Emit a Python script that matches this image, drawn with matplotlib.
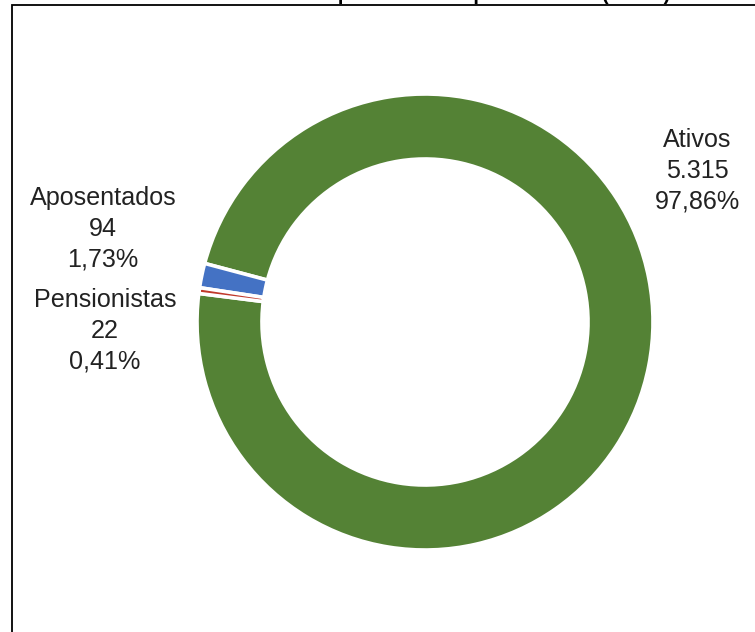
import matplotlib
matplotlib.use("Agg")
import matplotlib.pyplot as plt
from matplotlib.patches import Rectangle

# ---- data ----
categories = ["Ativos", "Aposentados", "Pensionistas"]
values = [5315, 94, 22]
colors = ["#548235", "#4472C4", "#C0392B"]
title = "Servidores ativos aposentados e pensionistas (RPPS)"

W, H = 755, 632
fig = plt.figure(figsize=(W / 100, H / 100), dpi=100)
fig.patch.set_facecolor("white")

def fx(x):
    return x / W

def fy(y):
    return 1 - y / H

# frame (cut off at right and bottom)
fig.patches.append(Rectangle((fx(11.5), fy(700)), fx(900), (700 - 4.5) / H,
                             transform=fig.transFigure, fill=False,
                             edgecolor="black", linewidth=1.3))

# donut axes: center (425, 322) px, outer radius 228 px
cx, cy, R = 425, 322, 228
ax = fig.add_axes([fx(cx - R), fy(cy + R), 2 * R / W, 2 * R / H])
ax.pie(values, colors=colors, startangle=172.8, counterclock=True, radius=1,
       wedgeprops=dict(width=0.285, edgecolor="white", linewidth=2.6))
ax.set_xlim(-1, 1)
ax.set_ylim(-1, 1)
ax.set_aspect("auto")
ax.axis("off")

# labels
total = sum(values)
def fmt_int(v):
    return f"{v:,}".replace(",", ".")
def fmt_pct(v):
    return f"{100 * v / total:.2f}".replace(".", ",") + "%"

label_pos = {  # (center x, first baseline y) in px from top-left
    "Ativos": (697, 147),
    "Aposentados": (103, 205),
    "Pensionistas": (105, 307),
}
step = 30.5
font = dict(family="Liberation Sans", fontsize=18.1, color="#222222")
for cat, v in zip(categories, values):
    x, y0 = label_pos[cat]
    for i, s in enumerate([cat, fmt_int(v), fmt_pct(v)]):
        fig.text(fx(x), fy(y0 + i * step), s, ha="center", va="baseline", **font)

# title (mostly outside the picture, as in the reference)
fig.text(fx(670), fy(0.5), title, ha="right", va="baseline",
         family="Liberation Sans", fontsize=14.5, fontweight="bold", color="black")

fig.savefig("out.png", dpi=100, facecolor="white")
